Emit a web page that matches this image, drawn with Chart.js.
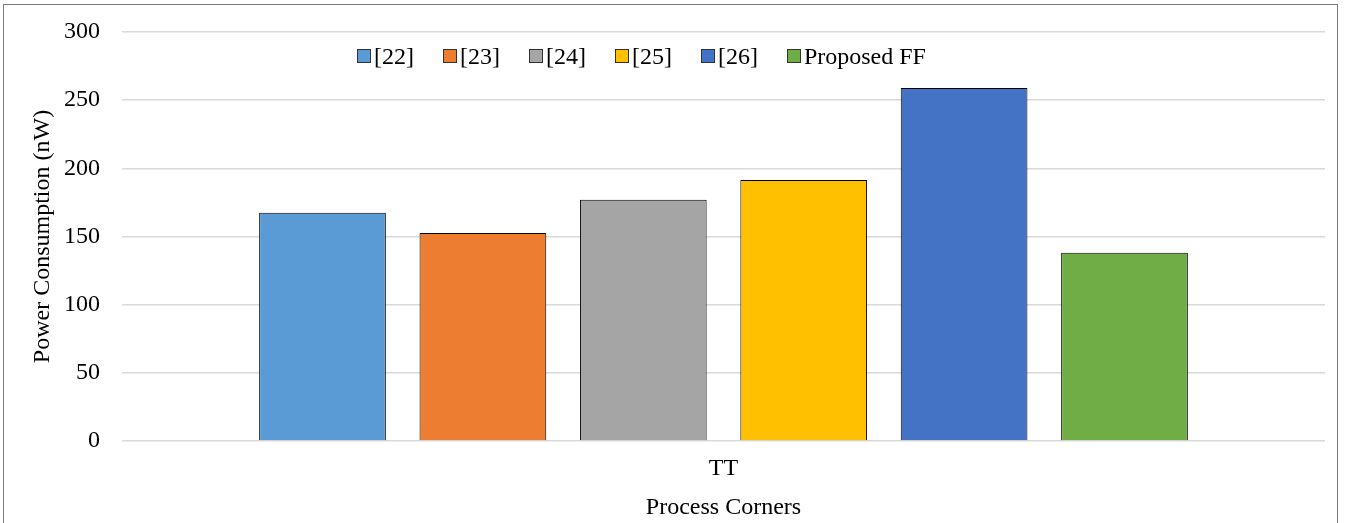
<!DOCTYPE html>
<html>
<head>
<meta charset="utf-8">
<script src="https://cdn.jsdelivr.net/npm/chart.js@4/dist/chart.umd.min.js"></script>
<style>
  body { margin: 0; background: #fff; }
  #wrap { position: relative; width: 1345px; height: 523px; }
  #frame { position: absolute; left: 3px; top: 4px; width: 1335px; height: 530px;
           border: 1.5px solid #7a7a7a; box-sizing: border-box; pointer-events: none; }
  #legend { position: absolute; top: 43px; left: 357px; font-family: "Liberation Serif", "Times New Roman", serif;
            font-size: 24px; color: #000; white-space: nowrap; }
  #legend span.item { display: inline-block; margin-right: 29px; }
  #legend span.item:last-child { margin-right: 0; }
  #legend span.box { display: inline-block; width: 12px; height: 12px; border: 1px solid #333;
                     margin-right: 3px; vertical-align: 1px; }
</style>
</head>
<body>
<div id="wrap">
  <canvas id="chart" width="1345" height="523"></canvas>
  <div id="legend"></div>
  <div id="frame"></div>
</div>
<script>
// data
categories = ['TT']
names = ['[22]', '[23]', '[24]', '[25]', '[26]', 'Proposed FF']
values = [167.5, 152.5, 177, 191.5, 259, 138]
colors = ['#5B9BD5', '#ED7D31', '#A5A5A5', '#FFC000', '#4472C4', '#70AD47']
yTicks = [0, 50, 100, 150, 200, 250, 300]

serif = '"Liberation Serif", "Times New Roman", serif'

datasets = []
for (let i = 0; i < names.length; i++) {
    datasets.push({
        label: names[i],
        data: [values[i]],
        backgroundColor: colors[i],
        borderColor: '#000',
        borderWidth: 1,
        categoryPercentage: 0.8,
        barPercentage: 0.79
    })
}

// legend as html, sits inside the plot area like the original
legendHTML = ''
for (let i = 0; i < names.length; i++) {
    legendHTML += '<span class="item"><span class="box" style="background:' + colors[i] + '"></span>' + names[i] + '</span>'
}
document.getElementById('legend').innerHTML = legendHTML

ctx = document.getElementById('chart')
config = {
    type: 'bar',
    data: {
        labels: categories,
        datasets: datasets
    },
    options: {
        responsive: false,
        animation: false,
        layout: { padding: { left: 28, right: 20, top: 32, bottom: 1 } },
        plugins: {
            legend: { display: false },
            tooltip: { enabled: false }
        },
        scales: {
            x: {
                grid: { display: false, drawTicks: false },
                border: { display: false },
                ticks: { color: '#000', font: { family: serif, size: 24 }, padding: 13 },
                title: { display: true, text: 'Process Corners', color: '#000',
                         font: { family: serif, size: 24 }, padding: { top: 4, bottom: 0 } },
                afterFit: function (scale) { scale.height = 523 - 441 - 1 }
            },
            y: {
                min: 0,
                max: 300,
                afterBuildTicks: function (scale) {
                    scale.ticks = yTicks.map(function (v) { return { value: v } })
                },
                grid: { color: '#d9d9d9', lineWidth: 1.5, drawTicks: false },
                border: { display: false },
                ticks: { color: '#000', font: { family: serif, size: 24 }, padding: 22 },
                title: { display: true, text: 'Power Consumption (nW)', color: '#000',
                         font: { family: serif, size: 24 }, padding: 0 },
                afterFit: function (scale) {
                    scale.width = 122 - 28
                    // don't let the tick labels push the plot area down
                    scale.paddingTop = 0
                    scale.paddingBottom = 0
                }
            }
        }
    }
}
new Chart(ctx, config)
</script>
</body>
</html>
